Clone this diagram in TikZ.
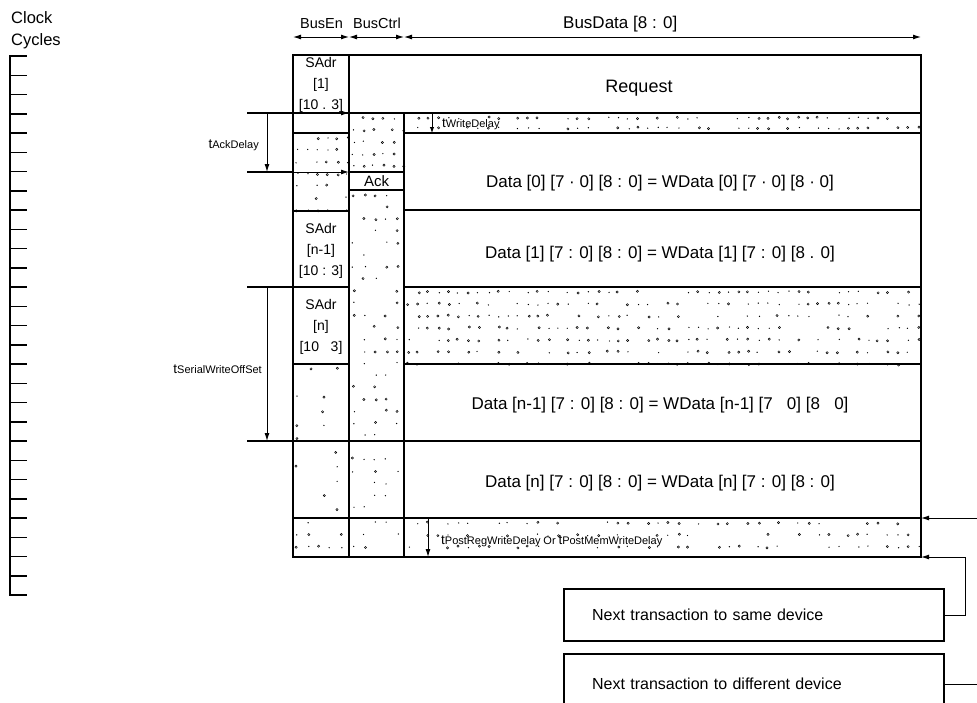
\documentclass[tikz,border=0pt]{standalone}
\usepackage{fontspec}
\setmainfont{Liberation Sans}
\usetikzlibrary{arrows.meta}
\newcommand{\tlbl}[1]{{\fontsize{13.5}{12}\selectfont t}{\fontsize{11}{10}\selectfont #1}}
% jittered stipple: x1,y1,x2,y2,dx,dy,keep-probability
\newcommand{\stipfill}[7]{%
  \pgfmathtruncatemacro\stnx{(#3-#1-5)/#5}%
  \pgfmathtruncatemacro\stny{(#4-#2-5)/#6}%
  \foreach \i in {0,...,\stnx}{\foreach \j in {0,...,\stny}{%
    \pgfmathsetmacro\stpx{#1+3+\i*#5+rnd*2.5}%
    \pgfmathsetmacro\stpy{#2+4+\j*#6+rnd*2}%
    \pgfmathsetmacro\stkeep{rnd}%
    \pgfmathsetmacro\stkind{rnd}%
    \ifdim\stkeep pt<#7pt
      \ifdim\stkind pt<0.55pt
        \draw[line width=0.5pt] (\stpx,\stpy) circle (1.1pt);
      \else
        \fill (\stpx,\stpy) circle (0.7pt);
      \fi
    \fi
  }}}
\begin{document}
\begin{tikzpicture}[x=1pt,y=-1pt,
  frame/.style={line width=2.6pt},
  gridln/.style={line width=1.6pt},
  arr/.style={line width=1pt,-{Latex[length=8pt,width=5pt]}},
  darr/.style={line width=1pt,{Latex[length=8pt,width=5pt]}-{Latex[length=8pt,width=5pt]}},
  lbl/.style={inner sep=0pt},
  big/.style={lbl,font=\fontsize{17}{20}\selectfont},
  hdr/.style={lbl,anchor=base west,font=\fontsize{14.5}{18}\selectfont},
  adr/.style={lbl,align=center,font=\fontsize{14}{21}\selectfont},
  ntbox/.style={draw,line width=2.2pt,anchor=north west,minimum width=380pt,text width=324pt,inner xsep=28pt,inner ysep=0pt,align=left,font=\fontsize{16}{19}\selectfont},
]
\useasboundingbox (0,0) rectangle (977,702);
\pgfmathsetseed{4711}

% ---------- clock ruler ----------
\draw[line width=2.2pt] (10,55) -- (10,596);
\foreach \k in {1,...,27} \draw[line width=1.5pt] (10,{56+\k*19.25}) -- (27,{56+\k*19.25});
\draw[line width=2.8pt] (9,56) -- (27,56);
\draw[line width=2.8pt] (9,595) -- (27,595);
\node[lbl,anchor=base west,font=\fontsize{16.5}{20}\selectfont] (clk) at (11,23) {Clock};
\node[lbl,anchor=base west,font=\fontsize{16.5}{20}\selectfont] (cyc) at (11,45) {Cycles};

% ---------- headers ----------
\node[hdr] (hbe) at (300,28) {BusEn};
\node[hdr] (hbc) at (353,28) {BusCtrl};
\node[hdr,font=\fontsize{17}{18}\selectfont] (hbd) at (563,28) {BusData [8 : 0]};
\coordinate (h0) at (293,37);
\coordinate (h1) at (349,37);
\coordinate (h2) at (404,37);
\coordinate (h3) at (921,37);
\draw[darr] (h0) -- (h1);
\draw[darr] (h1) -- (h2);
\draw[darr] (h2) -- (h3);

% ---------- stippled regions ----------
\stipfill{293}{133}{349}{211}{10}{12}{0.75}
\stipfill{293}{364}{349}{518}{13}{14}{0.35}
\stipfill{293}{518}{349}{557}{11}{12}{0.6}
\stipfill{349}{113}{404}{172}{10}{12}{0.75}
\stipfill{349}{190}{404}{518}{11}{12}{0.5}
\stipfill{349}{518}{404}{557}{11}{12}{0.5}
\stipfill{404}{113}{921}{133}{10}{10}{0.7}
\stipfill{404}{287}{921}{364}{10}{12}{0.7}
\stipfill{404}{518}{921}{557}{10}{12}{0.6}

% ---------- grid ----------
\draw[gridln] (349,55) -- (349,557);
\draw[gridln] (404,113) -- (404,557);
\draw[gridln] (293,113) -- (921,113);
\draw[gridln] (293,133) -- (349,133);
\draw[gridln] (404,133) -- (921,133);
\draw[gridln,fill=white] (349,172) rectangle (404,190);
\draw[gridln] (293,211) -- (349,211);
\draw[gridln] (404,210) -- (921,210);
\draw[gridln] (293,287) -- (349,287);
\draw[gridln] (404,287) -- (921,287);
\draw[gridln] (293,364) -- (349,364);
\draw[gridln] (404,364) -- (921,364);
\draw[gridln] (293,441) -- (921,441);
\draw[frame] (293,518) -- (921,518);
\draw[frame] (293,55) rectangle (921,557);

% ---------- cell texts ----------
\node[adr] (sadr1) at (321,85) {SAdr\\{[1]}\\{[10 . 3]}};
\node[adr] (sadrn1) at (321,251) {SAdr\\{[n-1]}\\{[10 : 3]}};
\node[adr] (sadrn) at (321,327) {SAdr\\{[n]}\\{[10 \ \ 3]}};
\node[lbl,font=\fontsize{15}{18}\selectfont] (ack) at (376.5,181) {Ack};
\node[big,font=\fontsize{18}{20}\selectfont,anchor=base] (req) at (639,92) {Request};
\node[big,anchor=base] (d0) at (660,187) {Data [0] [7 · 0] [8 : 0] = WData [0] [7 · 0] [8 · 0]};
\node[big,anchor=base] (d1) at (660,258) {Data [1] [7 : 0] [8 : 0] = WData [1] [7 : 0] [8 . 0]};
\node[big,anchor=base] (dn1) at (660,409) {Data [n-1] [7 : 0] [8 : 0] = WData [n-1] [7 \ \ 0] [8 \ \ 0]};
\node[big,anchor=base] (dn) at (660,487) {Data [n] [7 : 0] [8 : 0] = WData [n] [7 : 0] [8 : 0]};

% ---------- timing labels ----------
\coordinate (ad1) at (247,113); \coordinate (ad1e) at (349,113);
\coordinate (ad2) at (247,172); \coordinate (ad2e) at (349,172);
\draw[gridln] (ad1) -- (293,113);
\draw[gridln] (ad2) -- (293,172);
\draw[arr] (ad1) -- (ad1e);
\draw[arr] (ad2) -- (ad2e);
\coordinate (akt) at (267,113); \coordinate (akb) at (267,172);
\draw[arr] (akt) -- (akb);
\node[lbl,anchor=east] (tack) at (259,145) {\tlbl{AckDelay}};

\coordinate (sw1) at (247,287); \coordinate (sw1e) at (293,287);
\coordinate (sw2) at (247,441); \coordinate (sw2e) at (293,441);
\draw[gridln] (sw1) -- (sw1e);
\draw[gridln] (sw2) -- (sw2e);
\coordinate (swt) at (267,287); \coordinate (swb) at (267,441);
\draw[arr] (swt) -- (swb);
\node[lbl,anchor=east] (tsw) at (262,369) {\tlbl{SerialWriteOffSet}};

\coordinate (wdt) at (432,114); \coordinate (wdb) at (432,133);
\draw[line width=1pt,-{Latex[length=6pt,width=4.5pt]}] (wdt) -- (wdb);
\node[lbl,anchor=west] (twd) at (442,124) {\tlbl{WriteDelay}};

\coordinate (pdt) at (428,519); \coordinate (pdb) at (428,557);
\draw[arr] (pdt) -- (pdb);
\node[lbl,anchor=west] (tpd) at (441,541) {\tlbl{PostRegWriteDelay} {\fontsize{11}{10}\selectfont Or} \tlbl{PostMemWriteDelay}};

% ---------- next transaction boxes ----------
\node[ntbox,minimum height=52pt] (same) at (563,588) {Next transaction to same device};
\node[ntbox,minimum height=60pt] (diff) at (563,653) {Next transaction to different device};

\coordinate (rin) at (977,518); \coordinate (tr518) at (921,518);
\coordinate (tbr) at (921,557); \coordinate (rout) at (977,683);
\draw[arr] (rin) -- (tr518);
\draw[arr] (same.east) -- ++(20,0) |- (tbr);
\draw[line width=1pt] (diff.east) -- (diff.east -| rout);
\end{tikzpicture}
\end{document}
